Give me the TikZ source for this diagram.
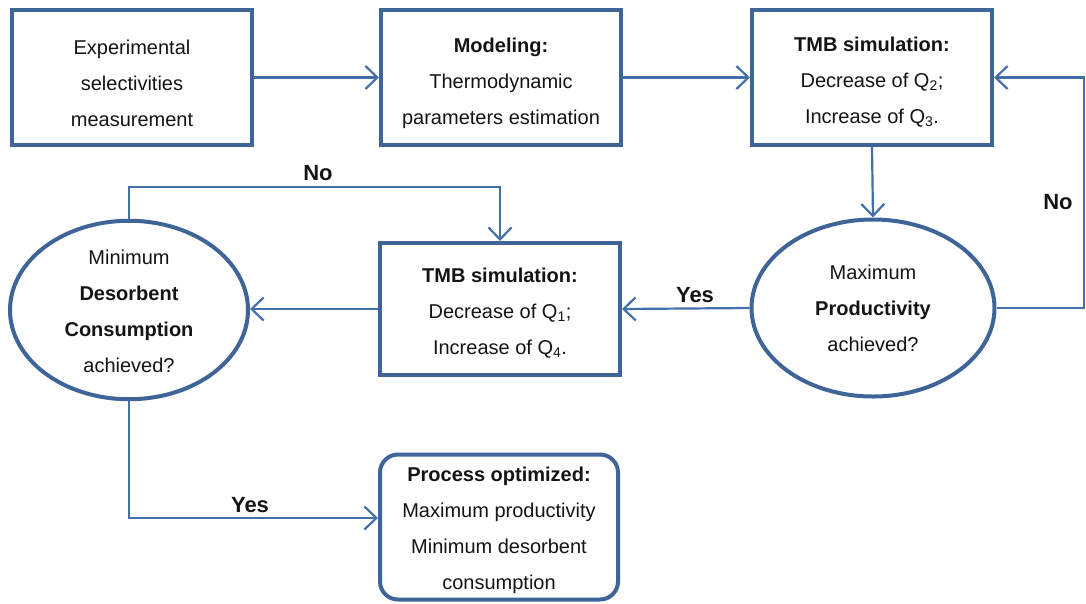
\documentclass[tikz,border=0pt]{standalone}
\usepackage{fontspec}
\setmainfont{Liberation Sans}
\usetikzlibrary{arrows.meta,shapes.geometric}
\definecolor{bord}{RGB}{62,100,152}
\definecolor{conn}{RGB}{68,112,170}
\definecolor{ink}{RGB}{20,20,20}
\newcommand{\lift}[1]{\rule{0pt}{#1}}
\begin{document}
\begin{tikzpicture}[x=1pt,y=-1pt,
  box/.style={draw=bord,line width=4pt,fill=white,minimum width=240pt,minimum height=135pt,
    inner sep=0pt,align=center,text=ink,font=\fontsize{20}{36}\selectfont},
  oval/.style={ellipse,draw=bord,line width=4pt,fill=white,inner sep=0pt,align=center,
    text=ink,font=\fontsize{20}{36}\selectfont},
  conn/.style={draw=conn,line width=2.2pt,-{Straight Barb[length=12pt,width=23pt]}},
  lbl/.style={font=\fontsize{22}{26}\selectfont\bfseries,text=ink,inner sep=0pt}]
\useasboundingbox (0,0) rectangle (1086,603);
\node[box] (b1) at (132,77.5) {\lift{26pt}Experimental\\selectivities\\measurement};
\node[box] (b2) at (501,77.5) {\lift{26pt}\textbf{Modeling:}\\Thermodynamic\\parameters estimation};
\node[box] (b3) at (872,77.5) {\lift{24.5pt}\textbf{TMB simulation:}\\Decrease of Q\textsubscript{2};\\Increase of Q\textsubscript{3}.};
\node[oval,minimum width=243pt,minimum height=177pt] (eR) at (873,308) {Maximum\\\textbf{Productivity}\\achieved?};
\node[box,minimum height=132pt] (b5) at (500,309) {\lift{22.5pt}\textbf{TMB simulation:}\\Decrease of Q\textsubscript{1};\\Increase of Q\textsubscript{4}.};
\node[oval,minimum width=238pt,minimum height=176pt] (eL) at (129,310) {\lift{18pt}Minimum\\\textbf{Desorbent}\\\textbf{Consumption}\\achieved?};
\node[box,rounded corners=18pt,minimum width=238pt,minimum height=145pt] (b7) at (499,527) {\lift{20.5pt}\textbf{Process optimized:}\\Maximum productivity\\Minimum desorbent\\consumption};
\coordinate (r1) at (1084,0);
\coordinate (n1) at (129,187);
\coordinate (y1) at (129,518);
\draw[conn] (b1) -- (b2);
\draw[conn] (b2) -- (b3);
\draw[conn] (b3.south) -- (eR.north);
\draw[conn] (eR.east) -- (eR.east -| r1) -- (b3.east -| r1) -- (b3.east);
\draw[conn] (eR.west) -- (b5.east);
\draw[conn] (b5.west) -- (b5.west -| eL.east);
\draw[conn] (eL.north) -- (n1) -- (n1 -| b5.north) -- (b5.north);
\draw[conn] (eL.south) -- (y1) -- (y1 -| b7.west);
\node[lbl] (l1) at (1058,202) {No};
\node[lbl] (l2) at (695,295) {Yes};
\node[lbl] (l3) at (318,173) {No};
\node[lbl] (l4) at (250,505) {Yes};
\end{tikzpicture}
\end{document}
